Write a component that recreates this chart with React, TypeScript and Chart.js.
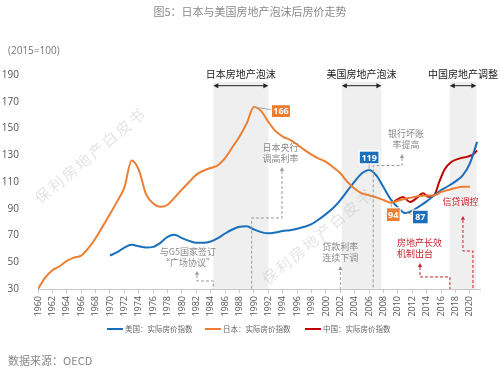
import React, { useEffect, useRef } from "react";
import { Chart, registerables } from "chart.js";
Chart.register(...registerables);

// ---------- data ----------
const JAPAN_YEARS = [1960,1961,1962,1963,1964,1965,1966,1967,1968,1969,1970,1971,1972,1973,1974,1975,1976,1977,1978,1979,1980,1981,1982,1983,1984,1985,1986,1987,1988,1989,1990,1991,1992,1993,1994,1995,1996,1997,1998,1999,2000,2001,2002,2003,2004,2005,2006,2007,2008,2009,2010,2011,2012,2013,2014,2015,2016,2017,2018,2019,2020];
const JAPAN_VALUES = [30,38.5,44,47,51,53.5,55,60.5,68,77,86,95.5,106,126,119,101,94,91.5,93,98.5,104.5,110,115.5,118.5,120.5,122.5,128,136,144,154,166,163,155,148,144,141.5,138,134,130.5,127.5,125,121,116.5,110,105,101.5,100,98.5,96.5,94.5,96,97.5,98.5,99.5,100,100,102.5,104,105.5,106.5,106.5];

const US_YEARS = [1970,1971,1972,1973,1974,1975,1976,1977,1978,1979,1980,1981,1982,1983,1984,1985,1986,1987,1988,1989,1990,1991,1992,1993,1994,1995,1996,1997,1998,1999,2000,2001,2002,2003,2004,2005,2006,2007,2008,2009,2010,2011,2012,2013,2014,2015,2016,2017,2018,2019,2020,2021];
const US_VALUES = [55,57.5,61,63,62,61,61.5,64.5,69,70.5,68,66,64.5,64.5,65.5,68,71.5,74.5,76.5,77,74.5,72.5,71.6,72.3,73.3,74,75,76.5,78.5,82,86,90.5,96.5,103.5,110.5,116.5,119,115,106,97,91,86.8,88.5,92,95.5,100,104,107,110.5,115,124,140];

const CHINA_YEARS = [2009.5,2010.7,2011.7,2012.5,2013.5,2014.2,2015,2015.8,2016.5,2017.4,2018.5,2019.7,2020.4,2021];
const CHINA_VALUES = [95.5,98.7,95,97.5,101.5,99,100,111,119.5,125,127.5,129,130.5,133.5];

const SERIES_NAMES = ["美国：实际房价指数", "日本：实际房价指数", "中国：实际房价指数"];
const COLORS = { us: "#1a6fba", japan: "#ed7d31", china: "#c00000" };

const Y_MIN = 30, Y_MAX = 190, Y_STEP = 20;
const X_MIN = 1960, X_MAX = 2021.4, X_STEP = 2;

const TITLE = "图5：日本与美国房地产泡沫后房价走势";
const UNIT = "(2015=100)";
const SOURCE = "数据来源：OECD";
const WATERMARK = "保利房地产白皮书";

// bubble periods: [label, startYear, endYear]
const BANDS: [string, number, number][] = [
  ["日本房地产泡沫", 1984.35, 1992],
  ["美国房地产泡沫", 2002.2, 2007.7],
  ["中国房地产调整", 2017.2, 2020.9],
];
const BAND_TOP = 185;

// event callouts: lines, tip (year,value), elbow value, base year, colour, text offsets
type Callout = { lines: string[]; tipX: number; tipY: number; elbowY: number; baseX: number; red: boolean; dx: number; dy: number; align: CanvasTextAlign };
const CALLOUTS: Callout[] = [
  { lines: ["与G5国家签订", "\u201c广场协议\u201d"], tipX: 1982.08, tipY: 43.5, elbowY: 36, baseX: 1984.35, red: false, dx: -9, dy: -19, align: "center" },
  { lines: ["日本央行", "调高利率"], tipX: 1993.89, tipY: 121.2, elbowY: 83.1, baseX: 1989.68, red: false, dx: -1.5, dy: -19, align: "center" },
  { lines: ["贷款利率", "连续下调"], tipX: 2002, tipY: 47.2, elbowY: 47.2, baseX: 2002, red: false, dx: 0, dy: -19, align: "center" },
  { lines: ["银行坏账", "率提高"], tipX: 2010.56, tipY: 130.9, elbowY: 122.3, baseX: 2006.57, red: false, dx: 4, dy: -20, align: "center" },
  { lines: ["房地产长效", "机制出台"], tipX: 2013.06, tipY: 49.4, elbowY: 39, baseX: 2017.22, red: true, dx: -23, dy: -20, align: "left" },
  { lines: ["信贷调控"], tipX: 2019.03, tipY: 84.6, elbowY: 58.4, baseX: 2020.42, red: true, dx: -2.5, dy: -14, align: "center" },
];

// value labels: text, anchor (year,value), box offset, colour
const VALUE_LABELS = [
  { text: "166", x: 1990, y: 166, ox: 27, oy: 4, color: COLORS.japan, w: 18, h: 12 },
  { text: "119", x: 2006, y: 119, ox: 0, oy: -12.5, color: COLORS.us, w: 19, h: 12 },
  { text: "94", x: 2009, y: 94.5, ox: 2.5, oy: 12, color: COLORS.japan, w: 13, h: 13 },
  { text: "87", x: 2011.3, y: 86.8, ox: 13, oy: 4, color: COLORS.us, w: 15, h: 13 },
];

// watermark centres (year, value)
const WATERMARK_POS: [number, number][] = [
  [1967.3, 130],
  [1998.9, 69.5],
];

const NUM_FONT = '"Open Sans", "Noto Sans CJK SC", sans-serif';
const CJK_FONT = '"Noto Sans CJK SC", "Open Sans", sans-serif';

function toPoints(xs: number[], ys: number[]) {
  return xs.map((x, i) => ({ x, y: ys[i] }));
}

function arrowUp(ctx: CanvasRenderingContext2D, x: number, y: number, s: number) {
  ctx.beginPath();
  ctx.moveTo(x, y);
  ctx.lineTo(x - s * 0.7, y + s * 1.3);
  ctx.lineTo(x + s * 0.7, y + s * 1.3);
  ctx.closePath();
  ctx.fill();
}

const backgroundPlugin = {
  id: "bg",
  beforeDatasetsDraw(chart: any) {
    const { ctx, scales, chartArea } = chart;
    const X = (v: number) => scales.x.getPixelForValue(v);
    const Y = (v: number) => scales.y.getPixelForValue(v);
    ctx.save();
    ctx.fillStyle = "#efefef";
    for (const [, a, b] of BANDS) {
      ctx.fillRect(X(a), Y(BAND_TOP), X(b) - X(a), chartArea.bottom - Y(BAND_TOP));
    }
    ctx.fillStyle = "rgba(190,190,190,0.42)";
    ctx.font = `15px ${CJK_FONT}`;
    (ctx as any).letterSpacing = "2.5px";
    ctx.textAlign = "center";
    ctx.textBaseline = "middle";
    for (const [wx, wy] of WATERMARK_POS) {
      ctx.save();
      ctx.translate(X(wx), Y(wy));
      ctx.rotate((-40 * Math.PI) / 180);
      ctx.fillText(WATERMARK, 0, 0);
      ctx.restore();
    }
    (ctx as any).letterSpacing = "0px";
    ctx.restore();
  },
};

const annotationPlugin = {
  id: "annot",
  afterDatasetsDraw(chart: any) {
    const { ctx, scales, chartArea } = chart;
    const X = (v: number) => scales.x.getPixelForValue(v);
    const Y = (v: number) => scales.y.getPixelForValue(v);
    ctx.save();

    ctx.textAlign = "center";
    ctx.textBaseline = "middle";
    for (const [label, a, b] of BANDS) {
      const x1 = X(a), x2 = X(b);
      const ay = Y(BAND_TOP) + 4;
      ctx.strokeStyle = "#222";
      ctx.fillStyle = "#222";
      ctx.lineWidth = 1;
      ctx.beginPath();
      ctx.moveTo(x1 + 3, ay);
      ctx.lineTo(x2 - 3, ay);
      ctx.stroke();
      for (const [px, dir] of [[x1, 1], [x2, -1]]) {
        ctx.beginPath();
        ctx.moveTo(px, ay);
        ctx.lineTo(px + dir * 5, ay - 2.5);
        ctx.lineTo(px + dir * 5, ay + 2.5);
        ctx.closePath();
        ctx.fill();
      }
      ctx.font = `10px ${CJK_FONT}`;
      ctx.fillStyle = "#1a1a1a";
      ctx.fillText(label, (x1 + x2) / 2, ay - 11);
    }

    for (const c of CALLOUTS) {
      const col = c.red ? "#c8202a" : "#9a9a9a";
      const tx = X(c.tipX), ty = Y(c.tipY);
      const ey = Y(c.elbowY), bx = X(c.baseX);
      ctx.strokeStyle = col;
      ctx.fillStyle = col;
      ctx.lineWidth = 1;
      ctx.setLineDash([3, 2]);
      ctx.beginPath();
      ctx.moveTo(tx, ty + 4);
      ctx.lineTo(tx, ey);
      ctx.lineTo(bx, ey);
      ctx.lineTo(bx, chartArea.bottom);
      ctx.stroke();
      ctx.setLineDash([]);
      arrowUp(ctx, tx, ty, 3);
      ctx.font = `9px ${CJK_FONT}`;
      ctx.textAlign = c.align;
      ctx.textBaseline = "middle";
      ctx.fillStyle = c.red ? "#c8202a" : "#8a8a8a";
      c.lines.forEach((ln, i) => {
        ctx.fillText(ln, tx + c.dx, ty + c.dy + i * 10.5);
      });
    }

    for (const v of VALUE_LABELS) {
      const px = X(v.x), py = Y(v.y);
      const cx = px + v.ox, cy = py + v.oy;
      ctx.strokeStyle = "#aaa";
      ctx.lineWidth = 1;
      ctx.beginPath();
      ctx.moveTo(px, py);
      ctx.lineTo(cx, cy);
      ctx.stroke();
      ctx.fillStyle = v.color;
      ctx.fillRect(cx - v.w / 2, cy - v.h / 2, v.w, v.h);
      ctx.strokeStyle = "#fff";
      ctx.strokeRect(cx - v.w / 2 - 0.5, cy - v.h / 2 - 0.5, v.w + 1, v.h + 1);
      ctx.fillStyle = "#fff";
      ctx.font = `bold 9px ${NUM_FONT}`;
      ctx.textAlign = "center";
      ctx.textBaseline = "middle";
      ctx.fillText(v.text, cx, cy + 0.5);
    }
    ctx.restore();
  },
  afterDraw(chart: any) {
    const { ctx, width } = chart;
    ctx.save();
    ctx.textBaseline = "middle";
    ctx.textAlign = "center";
    ctx.fillStyle = "#8a8a8a";
    ctx.font = `11px ${CJK_FONT}`;
    ctx.fillText(TITLE, width / 2, 12);
    ctx.textAlign = "left";
    ctx.fillStyle = "#777";
    ctx.font = `10px ${NUM_FONT}`;
    ctx.fillText(UNIT, 8, 51);
    const legendX = [107, 205, 305];
    const cols = [COLORS.us, COLORS.japan, COLORS.china];
    ctx.font = `7.5px ${CJK_FONT}`;
    legendX.forEach((lx, i) => {
      ctx.strokeStyle = cols[i];
      ctx.lineWidth = 2;
      ctx.beginPath();
      ctx.moveTo(lx, 329);
      ctx.lineTo(lx + 16, 329);
      ctx.stroke();
      ctx.fillStyle = "#666";
      ctx.fillText(SERIES_NAMES[i], lx + 18, 329);
    });
    ctx.fillStyle = "#888";
    ctx.font = `11px ${CJK_FONT}`;
    ctx.fillText(SOURCE, 8, 361);
    ctx.restore();
  },
};

export default function App() {
  const ref = useRef<HTMLCanvasElement>(null);
  useEffect(() => {
    document.body.style.margin = "0";
    const canvas = ref.current!;
    const lineStyle = (color: string) => ({
      borderColor: color,
      backgroundColor: color,
      borderWidth: 2,
      pointRadius: 0,
      fill: false,
      cubicInterpolationMode: "monotone" as const,
    });
    const chart = new Chart(canvas, {
      type: "line",
      data: {
        datasets: [
          { label: SERIES_NAMES[1], data: toPoints(JAPAN_YEARS, JAPAN_VALUES), ...lineStyle(COLORS.japan) },
          { label: SERIES_NAMES[0], data: toPoints(US_YEARS, US_VALUES), ...lineStyle(COLORS.us) },
          { label: SERIES_NAMES[2], data: toPoints(CHINA_YEARS, CHINA_VALUES), ...lineStyle(COLORS.china) },
        ],
      },
      options: {
        animation: false,
        responsive: false,
        devicePixelRatio: 1,
        events: [],
        layout: { padding: { top: 75, right: 20, left: 0, bottom: 0 } },
        plugins: { legend: { display: false }, title: { display: false }, tooltip: { enabled: false } },
        scales: {
          x: {
            type: "linear",
            min: X_MIN,
            max: X_MAX,
            afterFit: (s: any) => { s.height = 80; },
            grid: { drawOnChartArea: false, drawTicks: true, tickLength: 4, color: "#c8c8c8" },
            border: { display: true, color: "#c8c8c8" },
            ticks: {
              stepSize: X_STEP,
              includeBounds: false,
              autoSkip: false,
              minRotation: 90,
              maxRotation: 90,
              padding: 3,
              color: "#555",
              font: { family: NUM_FONT, size: 9 },
              callback: (v: any) => String(v),
            },
          },
          y: {
            min: Y_MIN,
            max: Y_MAX,
            afterFit: (s: any) => { s.width = 38; },
            grid: { display: false },
            border: { display: false },
            ticks: {
              stepSize: Y_STEP,
              padding: 11,
              color: "#555",
              font: { family: NUM_FONT, size: 10 },
              callback: (v: any) => String(v),
            },
          },
        },
      } as any,
      plugins: [backgroundPlugin, annotationPlugin],
    });
    return () => chart.destroy();
  }, []);
  return (
    <div style={{ width: 500, height: 369, background: "#fff" }}>
      <canvas ref={ref} width={500} height={369} style={{ display: "block" }} />
    </div>
  );
}
